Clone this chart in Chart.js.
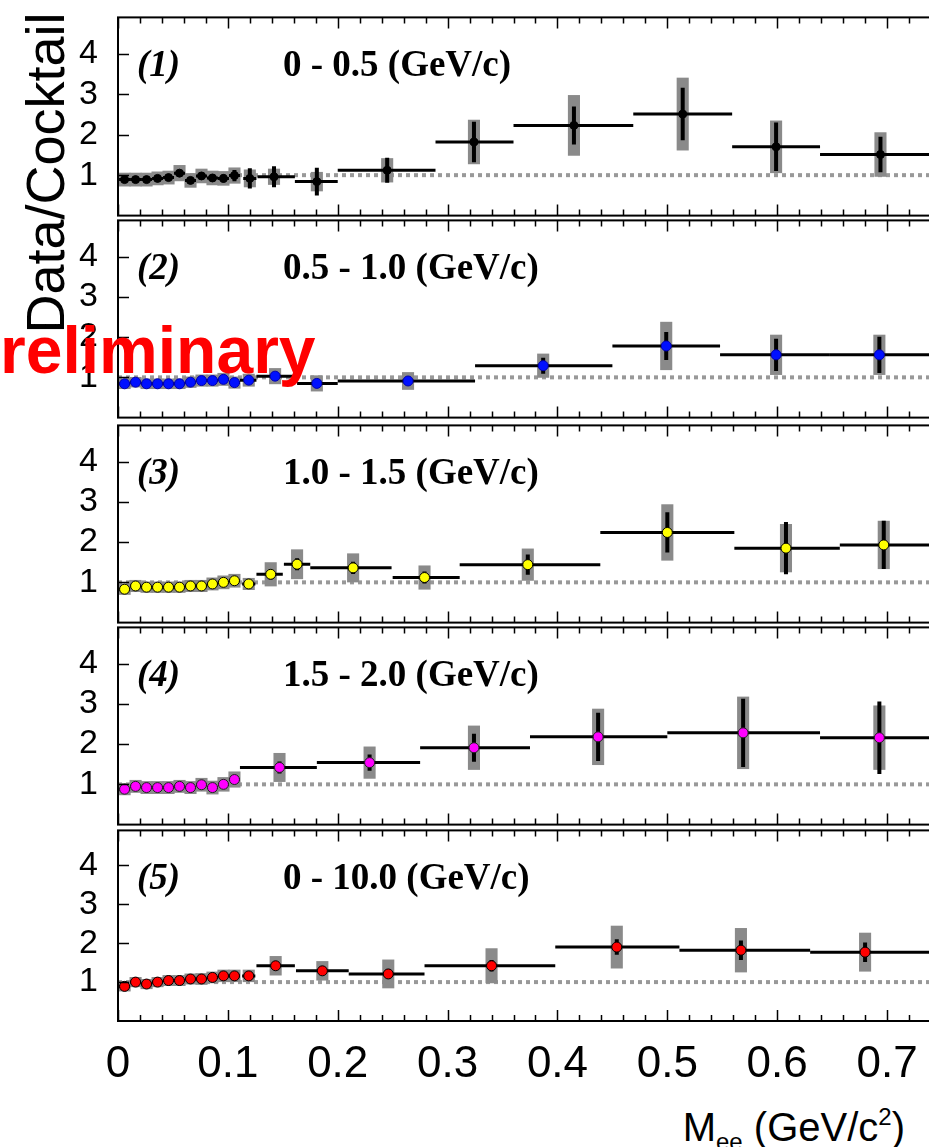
<!DOCTYPE html>
<html>
<head>
<meta charset="utf-8">
<script src="https://cdn.jsdelivr.net/npm/chart.js@4.4.1/dist/chart.umd.min.js"></script>
<style>
  html, body { margin: 0; padding: 0; background: #fff; overflow: hidden; width: 929px; height: 1147px; }
  canvas { position: absolute; left: 0; }
  #ytitle { position: absolute; left: 14px; top: 343px; width: 340px; line-height: 54px; text-align: center;
            font: 54px "Liberation Sans", Arial, sans-serif; color: #000;
            transform: rotate(-90deg); transform-origin: 0 0; white-space: nowrap; }
  #xtitle { position: absolute; right: 24px; top: 1105px; line-height: 40px; white-space: nowrap;
            font: 40px "Liberation Sans", Arial, sans-serif; color: #000; }
  #xtitle .sub { font-size: 24px; position: relative; top: 9px; }
  #xtitle .sup { font-size: 24px; position: relative; top: -16px; }
  #prelim { position: absolute; left: -44px; top: 312px; line-height: 66px; white-space: nowrap;
            font: bold 66px "Liberation Sans", Arial, sans-serif; color: #f00; }
</style>
</head>
<body>
<canvas id="c1"></canvas>
<canvas id="c2"></canvas>
<canvas id="c3"></canvas>
<canvas id="c4"></canvas>
<canvas id="c5"></canvas>
<div id="ytitle">Data/Cocktail</div>
<div id="xtitle">M<span class="sub">ee</span> (GeV/c<span class="sup">2</span>)</div>
<div id="prelim">Preliminary</div>
<script>
// axis ranges and ticks
const xMin = 0, xMax = 0.74;
const yMin = 0, yMax = 4.9;
const xTickValues = [0, 0.1, 0.2, 0.3, 0.4, 0.5, 0.6, 0.7];
const yTickValues = [1, 2, 3, 4];
const unity = 1;

const panelTags = ['(1)', '(2)', '(3)', '(4)', '(5)'];
const ptRanges = ['0 - 0.5 (GeV/c)', '0.5 - 1.0 (GeV/c)', '1.0 - 1.5 (GeV/c)', '1.5 - 2.0 (GeV/c)', '0 - 10.0 (GeV/c)'];

// panel 1 : 0 - 0.5 GeV/c
const p1Mass  = [0.006, 0.016, 0.026, 0.036, 0.046, 0.056, 0.066, 0.076, 0.086, 0.096, 0.106, 0.12, 0.142, 0.181, 0.245, 0.324, 0.415, 0.514, 0.599, 0.694];
const p1Ratio = [0.89, 0.89, 0.89, 0.92, 0.94, 1.05, 0.87, 0.98, 0.93, 0.92, 0.99, 0.92, 0.96, 0.84, 1.12, 1.82, 2.23, 2.51, 1.70, 1.51];
const p1BinLo = [0.001, 0.011, 0.021, 0.031, 0.041, 0.051, 0.061, 0.071, 0.081, 0.091, 0.101, 0.114, 0.127, 0.161, 0.2, 0.289, 0.36, 0.469, 0.559, 0.639];
const p1BinHi = [0.011, 0.021, 0.031, 0.041, 0.051, 0.061, 0.071, 0.081, 0.091, 0.101, 0.111, 0.126, 0.161, 0.2, 0.289, 0.36, 0.469, 0.559, 0.639, 0.75];
const p1Stat  = [0.03, 0.03, 0.04, 0.04, 0.05, 0.06, 0.07, 0.08, 0.09, 0.1, 0.14, 0.25, 0.26, 0.34, 0.31, 0.5, 0.47, 0.65, 0.6, 0.44];
const p1Sys   = [0.17, 0.17, 0.17, 0.17, 0.17, 0.2, 0.18, 0.18, 0.18, 0.18, 0.2, 0.22, 0.2, 0.24, 0.3, 0.55, 0.75, 0.9, 0.65, 0.55];

// panel 2 : 0.5 - 1.0 GeV/c
const p2Mass  = [0.006, 0.016, 0.026, 0.036, 0.046, 0.056, 0.066, 0.076, 0.086, 0.096, 0.106, 0.119, 0.143, 0.181, 0.264, 0.387, 0.499, 0.599, 0.693];
const p2Ratio = [0.84, 0.88, 0.84, 0.84, 0.84, 0.84, 0.88, 0.92, 0.92, 0.95, 0.87, 0.93, 1.03, 0.85, 0.91, 1.29, 1.78, 1.56, 1.56];
const p2BinLo = [0.001, 0.011, 0.021, 0.031, 0.041, 0.051, 0.061, 0.071, 0.081, 0.091, 0.101, 0.111, 0.126, 0.163, 0.2, 0.325, 0.45, 0.548, 0.648];
const p2BinHi = [0.011, 0.021, 0.031, 0.041, 0.051, 0.061, 0.071, 0.081, 0.091, 0.101, 0.111, 0.126, 0.161, 0.2, 0.325, 0.45, 0.548, 0.648, 0.75];
const p2Stat  = [0.03, 0.03, 0.03, 0.03, 0.04, 0.04, 0.05, 0.05, 0.06, 0.06, 0.07, 0.08, 0.1, 0.1, 0.1, 0.2, 0.35, 0.4, 0.45];
const p2Sys   = [0.13, 0.13, 0.13, 0.13, 0.13, 0.13, 0.14, 0.15, 0.15, 0.16, 0.15, 0.16, 0.2, 0.2, 0.22, 0.3, 0.6, 0.5, 0.5];

// panel 3 : 1.0 - 1.5 GeV/c
const p3Mass  = [0.006, 0.016, 0.026, 0.036, 0.046, 0.056, 0.066, 0.076, 0.086, 0.096, 0.106, 0.119, 0.139, 0.163, 0.214, 0.279, 0.373, 0.5, 0.608, 0.697];
const p3Ratio = [0.83, 0.91, 0.88, 0.88, 0.88, 0.88, 0.91, 0.91, 0.96, 1.0, 1.04, 0.96, 1.2, 1.45, 1.36, 1.12, 1.44, 2.24, 1.85, 1.93];
const p3BinLo = [0.001, 0.011, 0.021, 0.031, 0.041, 0.051, 0.061, 0.071, 0.081, 0.091, 0.101, 0.113, 0.126, 0.151, 0.175, 0.25, 0.311, 0.439, 0.561, 0.657];
const p3BinHi = [0.011, 0.021, 0.031, 0.041, 0.051, 0.061, 0.071, 0.081, 0.091, 0.101, 0.111, 0.125, 0.15, 0.175, 0.249, 0.311, 0.439, 0.561, 0.657, 0.75];
const p3Stat  = [0.03, 0.03, 0.03, 0.03, 0.04, 0.04, 0.05, 0.05, 0.06, 0.06, 0.07, 0.08, 0.12, 0.15, 0.15, 0.15, 0.25, 0.5, 0.65, 0.6];
const p3Sys   = [0.14, 0.15, 0.14, 0.14, 0.14, 0.14, 0.15, 0.15, 0.16, 0.17, 0.17, 0.15, 0.3, 0.37, 0.36, 0.3, 0.4, 0.7, 0.6, 0.6];

// panel 4 : 1.5 - 2.0 GeV/c
const p4Mass  = [0.006, 0.016, 0.026, 0.036, 0.046, 0.056, 0.066, 0.076, 0.086, 0.096, 0.106, 0.147, 0.229, 0.324, 0.437, 0.569, 0.693];
const p4Ratio = [0.88, 0.95, 0.92, 0.92, 0.92, 0.95, 0.92, 0.99, 0.92, 1.0, 1.12, 1.42, 1.54, 1.91, 2.18, 2.28, 2.16];
const p4BinLo = [0.001, 0.011, 0.021, 0.031, 0.041, 0.051, 0.061, 0.071, 0.081, 0.091, 0.101, 0.111, 0.181, 0.275, 0.375, 0.5, 0.639];
const p4BinHi = [0.011, 0.021, 0.031, 0.041, 0.051, 0.061, 0.071, 0.081, 0.091, 0.101, 0.111, 0.181, 0.275, 0.375, 0.5, 0.639, 0.75];
const p4Stat  = [0.03, 0.03, 0.03, 0.04, 0.04, 0.05, 0.05, 0.06, 0.06, 0.07, 0.08, 0.15, 0.2, 0.35, 0.6, 0.85, 0.9];
const p4Sys   = [0.15, 0.16, 0.16, 0.16, 0.16, 0.16, 0.16, 0.17, 0.17, 0.18, 0.2, 0.36, 0.4, 0.55, 0.7, 0.9, 0.8];

// panel 5 : 0 - 10.0 GeV/c
const p5Mass  = [0.006, 0.016, 0.026, 0.036, 0.046, 0.056, 0.066, 0.076, 0.086, 0.096, 0.106, 0.119, 0.1435, 0.186, 0.246, 0.34, 0.454, 0.567, 0.68];
const p5Ratio = [0.89, 1.0, 0.95, 1.0, 1.04, 1.04, 1.08, 1.08, 1.12, 1.16, 1.16, 1.16, 1.42, 1.29, 1.21, 1.42, 1.9, 1.82, 1.77];
const p5BinLo = [0.001, 0.011, 0.021, 0.031, 0.041, 0.051, 0.061, 0.071, 0.081, 0.091, 0.101, 0.113, 0.126, 0.162, 0.21, 0.279, 0.398, 0.511, 0.63];
const p5BinHi = [0.011, 0.021, 0.031, 0.041, 0.051, 0.061, 0.071, 0.081, 0.091, 0.101, 0.111, 0.125, 0.161, 0.21, 0.279, 0.398, 0.511, 0.63, 0.75];
const p5Stat  = [0.03, 0.03, 0.03, 0.03, 0.04, 0.04, 0.04, 0.05, 0.05, 0.05, 0.06, 0.06, 0.1, 0.1, 0.12, 0.15, 0.2, 0.25, 0.25];
const p5Sys   = [0.13, 0.13, 0.13, 0.13, 0.14, 0.14, 0.14, 0.15, 0.15, 0.16, 0.16, 0.16, 0.25, 0.25, 0.37, 0.45, 0.55, 0.57, 0.5];

// page layout (pixels), kept apart from the data
const frameTop    = [15, 218, 423, 625, 828];
const frameBottom = [218, 420, 625, 827, 1021];
const PAD = 30;
const CANVAS_W = 945;
const PLOT_LEFT = 118;
const PLOT_RIGHT = 931;
const X_AXIS_H = 62;
const SYS_HALF = 0.0055;

const panels = [
  { mass: p1Mass, ratio: p1Ratio, lo: p1BinLo, hi: p1BinHi, stat: p1Stat, sys: p1Sys,
    color: '#000', border: '#000', radius: 4 },
  { mass: p2Mass, ratio: p2Ratio, lo: p2BinLo, hi: p2BinHi, stat: p2Stat, sys: p2Sys,
    color: '#0010ff', border: '#0000b0', radius: 5 },
  { mass: p3Mass, ratio: p3Ratio, lo: p3BinLo, hi: p3BinHi, stat: p3Stat, sys: p3Sys,
    color: '#ffff00', border: '#000', radius: 5 },
  { mass: p4Mass, ratio: p4Ratio, lo: p4BinLo, hi: p4BinHi, stat: p4Stat, sys: p4Sys,
    color: '#ff00ff', border: '#222', radius: 5 },
  { mass: p5Mass, ratio: p5Ratio, lo: p5BinLo, hi: p5BinHi, stat: p5Stat, sys: p5Sys,
    color: '#ff0000', border: '#000', radius: 5 },
];

// ROOT-like drawing: unity line, sys boxes, error bars, frame with inner ticks, panel text
const rootStyle = {
  id: 'rootStyle',
  beforeDatasetsDraw(chart, args, opts) {
    const ctx = chart.ctx, a = chart.chartArea;
    const x = chart.scales.x, y = chart.scales.y;
    const p = opts.panel;
    ctx.save();
    ctx.beginPath();
    ctx.rect(a.left, a.top, a.right - a.left, a.bottom - a.top);
    ctx.clip();

    ctx.strokeStyle = '#999';
    ctx.lineWidth = 4;
    ctx.setLineDash([4, 4]);
    ctx.beginPath();
    ctx.moveTo(x.getPixelForValue(xMin), y.getPixelForValue(unity));
    ctx.lineTo(x.getPixelForValue(xMax), y.getPixelForValue(unity));
    ctx.stroke();
    ctx.setLineDash([]);

    ctx.fillStyle = '#8a8a8a';
    p.mass.forEach((m, i) => {
      const x0 = x.getPixelForValue(m - SYS_HALF), x1 = x.getPixelForValue(m + SYS_HALF);
      const y0 = y.getPixelForValue(p.ratio[i] + p.sys[i]), y1 = y.getPixelForValue(p.ratio[i] - p.sys[i]);
      ctx.fillRect(x0, y0, x1 - x0, y1 - y0);
    });

    ctx.strokeStyle = '#000';
    p.mass.forEach((m, i) => {
      const px = x.getPixelForValue(m), py = y.getPixelForValue(p.ratio[i]);
      ctx.lineWidth = 3;
      ctx.beginPath();
      ctx.moveTo(x.getPixelForValue(p.lo[i]), py);
      ctx.lineTo(x.getPixelForValue(p.hi[i]), py);
      ctx.stroke();
      ctx.lineWidth = 4;
      ctx.beginPath();
      ctx.moveTo(px, y.getPixelForValue(p.ratio[i] + p.stat[i]));
      ctx.lineTo(px, y.getPixelForValue(p.ratio[i] - p.stat[i]));
      ctx.stroke();
    });
    ctx.restore();
  },
  afterDraw(chart, args, opts) {
    const ctx = chart.ctx, a = chart.chartArea;
    const x = chart.scales.x, y = chart.scales.y;
    ctx.save();
    ctx.strokeStyle = '#000';
    ctx.lineWidth = 2;
    ctx.strokeRect(a.left, a.top, a.right - a.left, a.bottom - a.top);

    ctx.lineWidth = 1.5;
    ctx.beginPath();
    for (let k = 0; k * 0.02 <= xMax + 1e-9; k++) {
      const px = Math.round(x.getPixelForValue(k * 0.02)) + 0.5;
      const len = (k % 5 === 0) ? 11 : 6;
      ctx.moveTo(px, a.top); ctx.lineTo(px, a.top + len);
      ctx.moveTo(px, a.bottom); ctx.lineTo(px, a.bottom - len);
    }
    yTickValues.forEach(v => {
      const py = Math.round(y.getPixelForValue(v)) + 0.5;
      ctx.moveTo(a.left, py); ctx.lineTo(a.left + 11, py);
    });
    ctx.stroke();

    ctx.fillStyle = '#000';
    ctx.textBaseline = 'alphabetic';
    ctx.font = 'italic bold 37px "Liberation Serif", "Times New Roman", serif';
    ctx.fillText(opts.tag, a.left + 19, a.top + 59);
    ctx.font = 'bold 37px "Liberation Serif", "Times New Roman", serif';
    ctx.fillText(opts.range, a.left + 165, a.top + 59);
    ctx.restore();
  }
};

panels.forEach((p, i) => {
  const last = i === panels.length - 1;
  const canvas = document.getElementById('c' + (i + 1));
  const h = frameBottom[i] - frameTop[i] + PAD + (last ? X_AXIS_H : PAD);
  canvas.width = CANVAS_W;
  canvas.height = h;
  canvas.style.top = (frameTop[i] - PAD) + 'px';

  new Chart(canvas.getContext('2d'), {
    type: 'scatter',
    data: {
      datasets: [{
        data: p.mass.map((m, j) => ({ x: m, y: p.ratio[j] })),
        pointRadius: p.radius,
        pointBackgroundColor: p.color,
        pointBorderColor: p.border,
        pointBorderWidth: 1,
        showLine: false
      }]
    },
    options: {
      responsive: false,
      animation: false,
      events: [],
      layout: { padding: { top: PAD, bottom: last ? 0 : PAD, left: 0, right: CANVAS_W - PLOT_RIGHT } },
      plugins: {
        legend: { display: false },
        tooltip: { enabled: false },
        rootStyle: { panel: p, tag: panelTags[i], range: ptRanges[i] }
      },
      scales: {
        x: {
          type: 'linear',
          display: last,
          min: xMin,
          max: xMax,
          grid: { display: false },
          border: { display: false },
          afterBuildTicks: s => { s.ticks = xTickValues.map(v => ({ value: v })); },
          afterFit: s => { s.height = last ? X_AXIS_H : 0; },
          ticks: {
            autoSkip: false,
            maxRotation: 0,
            padding: 9,
            color: '#000',
            font: { family: '"Liberation Sans", Arial, sans-serif', size: 44 },
            callback: v => String(v)
          }
        },
        y: {
          type: 'linear',
          min: yMin,
          max: yMax,
          grid: { display: false },
          border: { display: false },
          afterBuildTicks: s => { s.ticks = yTickValues.map(v => ({ value: v })); },
          afterFit: s => { s.width = PLOT_LEFT; },
          ticks: {
            padding: 12,
            color: '#000',
            font: { family: '"Liberation Sans", Arial, sans-serif', size: 34 },
            callback: v => String(v)
          }
        }
      }
    },
    plugins: [rootStyle]
  });
});
</script>
</body>
</html>
